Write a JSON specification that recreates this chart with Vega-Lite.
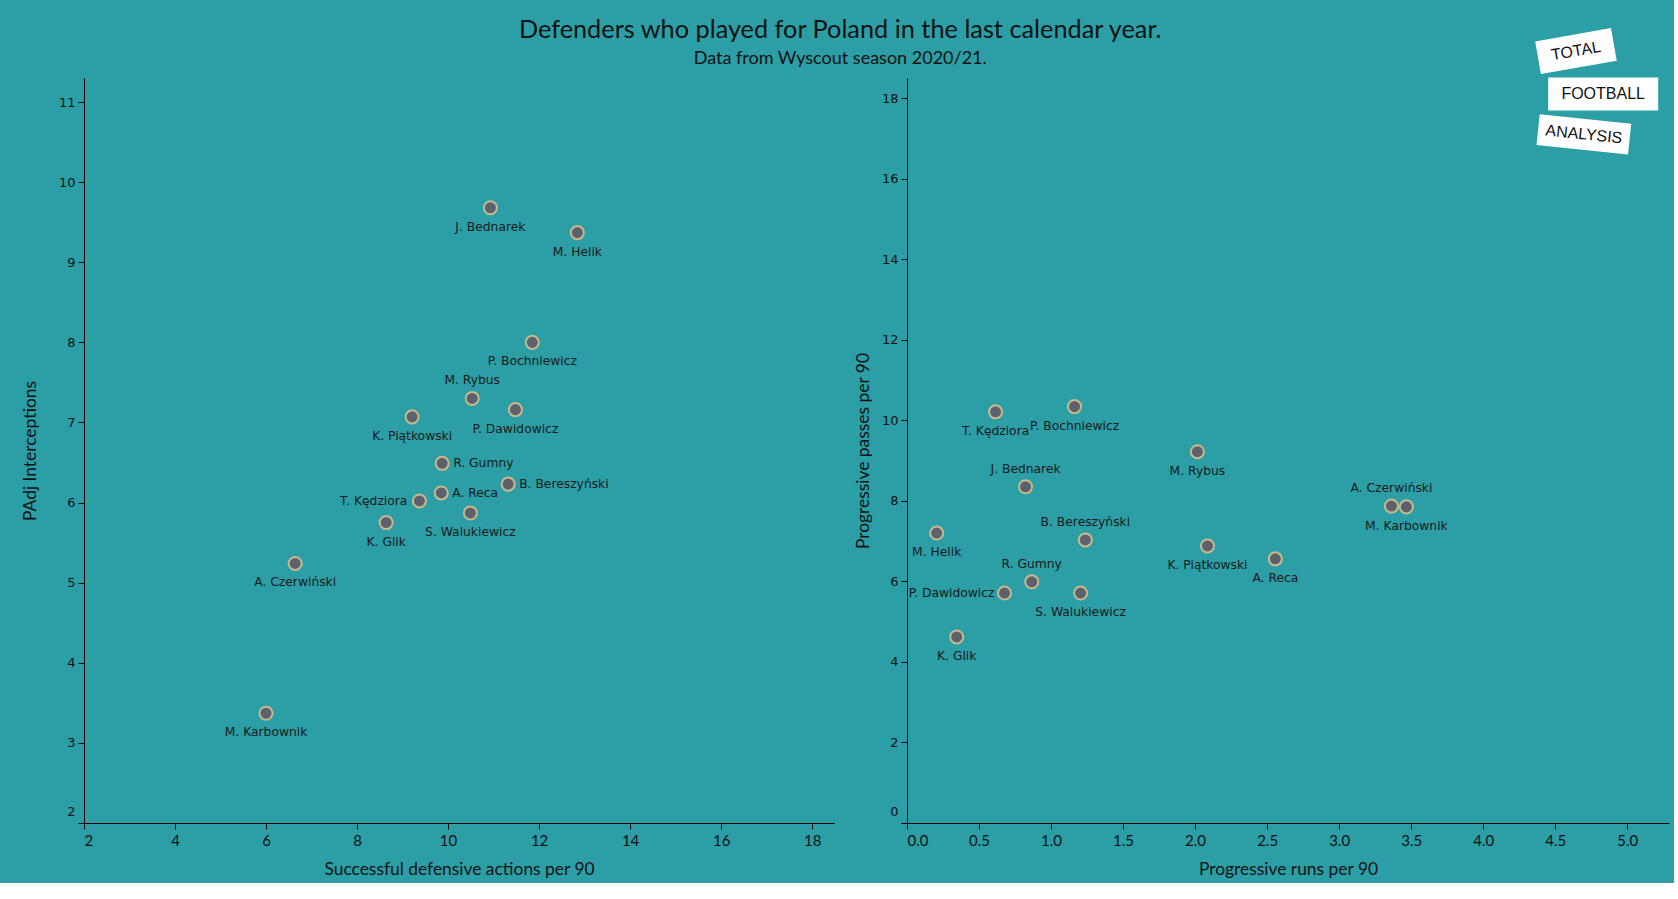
{
  "$schema": "https://vega.github.io/schema/vega-lite/v6.json",
  "background": "#2b9ea6",
  "padding": {"left": 21, "top": 17, "right": 5, "bottom": 5},
  "title": {
    "text": "Defenders who played for Poland in the last calendar year.",
    "subtitle": "Data from Wyscout season 2020/21.",
    "anchor": "middle",
    "dx": -5,
    "font": "Lato",
    "fontSize": 25.3,
    "fontWeight": "normal",
    "color": "#111111",
    "subtitleFont": "Lato",
    "subtitleFontSize": 18,
    "subtitleColor": "#111111",
    "subtitlePadding": 7,
    "offset": -40
  },
  "config": {
    "view": {"stroke": null},
    "axis": {
      "grid": false,
      "domainColor": "#000000",
      "tickColor": "#000000",
      "tickSize": 6,
      "labelColor": "#111111",
      "titleColor": "#111111",
      "titleFont": "Lato",
      "titleFontSize": 17.4,
      "titleFontWeight": "normal",
      "labelFlush": true
    }
  },
  "datasets": {
    "players": [
      {"player": "J. Bednarek", "def_actions": 10.93, "interceptions": 9.68, "prog_runs": 0.823, "prog_passes": 8.35},
      {"player": "M. Helik", "def_actions": 12.84, "interceptions": 9.37, "prog_runs": 0.206, "prog_passes": 7.2},
      {"player": "P. Bochniewicz", "def_actions": 11.85, "interceptions": 8.0, "prog_runs": 1.163, "prog_passes": 10.34},
      {"player": "M. Rybus", "def_actions": 10.53, "interceptions": 7.3, "prog_runs": 2.016, "prog_passes": 9.22},
      {"player": "P. Dawidowicz", "def_actions": 11.48, "interceptions": 7.16, "prog_runs": 0.677, "prog_passes": 5.71},
      {"player": "K. Piątkowski", "def_actions": 9.21, "interceptions": 7.07, "prog_runs": 2.086, "prog_passes": 6.88},
      {"player": "R. Gumny", "def_actions": 9.87, "interceptions": 6.49, "prog_runs": 0.866, "prog_passes": 5.99},
      {"player": "B. Bereszyński", "def_actions": 11.32, "interceptions": 6.23, "prog_runs": 1.238, "prog_passes": 7.03},
      {"player": "A. Reca", "def_actions": 9.85, "interceptions": 6.12, "prog_runs": 2.557, "prog_passes": 6.56},
      {"player": "T. Kędziora", "def_actions": 9.37, "interceptions": 6.02, "prog_runs": 0.615, "prog_passes": 10.21},
      {"player": "S. Walukiewicz", "def_actions": 10.49, "interceptions": 5.87, "prog_runs": 1.205, "prog_passes": 5.71},
      {"player": "K. Glik", "def_actions": 8.64, "interceptions": 5.75, "prog_runs": 0.345, "prog_passes": 4.62},
      {"player": "A. Czerwiński", "def_actions": 6.64, "interceptions": 5.24, "prog_runs": 3.363, "prog_passes": 7.87},
      {"player": "M. Karbownik", "def_actions": 6.0, "interceptions": 3.37, "prog_runs": 3.467, "prog_passes": 7.85}
    ],
    "logo": [
      {"word": "TOTAL", "lx": 4.644, "ly": 19.17},
      {"word": "FOOTBALL", "lx": 4.833, "ly": 18.1},
      {"word": "ANALYSIS", "lx": 4.699, "ly": 17.1}
    ]
  },
  "spacing": 20,
  "hconcat": [
    {
      "width": 750,
      "height": 745,
      "data": {"name": "players"},
      "encoding": {
        "x": {
          "field": "def_actions", "type": "quantitative",
          "scale": {"domain": [2, 18.48], "nice": false, "zero": false},
          "axis": {"values": [2, 4, 6, 8, 10, 12, 14, 16, 18], "title": "Successful defensive actions per 90", "labelFont": "Lato", "labelFontSize": 15, "labelPadding": 4, "titlePadding": 12}
        },
        "y": {
          "field": "interceptions", "type": "quantitative",
          "scale": {"domain": [2, 11.3], "nice": false, "zero": false},
          "axis": {"values": [2, 3, 4, 5, 6, 7, 8, 9, 10, 11], "title": "PAdj Interceptions", "labelFont": "DejaVu Sans", "labelFontSize": 13, "labelPadding": 3, "titlePadding": 19, "labelFlushOffset": -5}
        }
      },
      "layer": [
        {"mark": {"type": "point", "filled": true, "size": 170, "fill": "#5d616d", "stroke": "#c9b98c", "strokeWidth": 2, "opacity": 1}},
        {
          "transform": [{"filter": {"field": "player", "oneOf": ["J. Bednarek", "M. Helik", "P. Bochniewicz", "P. Dawidowicz", "K. Piątkowski", "S. Walukiewicz", "K. Glik", "A. Czerwiński", "M. Karbownik"]}}],
          "mark": {"type": "text", "font": "DejaVu Sans", "fontSize": 12.3, "color": "#1a1a1a", "align": "center", "baseline": "middle", "dy": 19},
          "encoding": {"text": {"field": "player"}}
        },
        {
          "transform": [{"filter": {"field": "player", "oneOf": ["M. Rybus"]}}],
          "mark": {"type": "text", "font": "DejaVu Sans", "fontSize": 12.3, "color": "#1a1a1a", "align": "center", "baseline": "middle", "dy": -18},
          "encoding": {"text": {"field": "player"}}
        },
        {
          "transform": [{"filter": {"field": "player", "oneOf": ["R. Gumny", "A. Reca", "B. Bereszyński"]}}],
          "mark": {"type": "text", "font": "DejaVu Sans", "fontSize": 12.3, "color": "#1a1a1a", "align": "left", "baseline": "middle", "dx": 11},
          "encoding": {"text": {"field": "player"}}
        },
        {
          "transform": [{"filter": {"field": "player", "oneOf": ["T. Kędziora"]}}],
          "mark": {"type": "text", "font": "DejaVu Sans", "fontSize": 12.3, "color": "#1a1a1a", "align": "right", "baseline": "middle", "dx": -12},
          "encoding": {"text": {"field": "player"}}
        }
      ]
    },
    {
      "width": 762,
      "height": 745,
      "encoding": {
        "x": {
          "field": "prog_runs", "type": "quantitative",
          "scale": {"domain": [0, 5.29], "nice": false, "zero": false},
          "axis": {"values": [0, 0.5, 1, 1.5, 2, 2.5, 3, 3.5, 4, 4.5, 5], "format": ".1f", "title": "Progressive runs per 90", "labelFont": "Lato", "labelFontSize": 15, "labelPadding": 4, "titlePadding": 12}
        },
        "y": {
          "field": "prog_passes", "type": "quantitative",
          "scale": {"domain": [0, 18.5], "nice": false, "zero": false},
          "axis": {"values": [0, 2, 4, 6, 8, 10, 12, 14, 16, 18], "title": "Progressive passes per 90", "labelFont": "DejaVu Sans", "labelFontSize": 13, "labelPadding": 3, "titlePadding": 9, "labelFlushOffset": -5}
        }
      },
      "layer": [
        {"data": {"name": "players"}, "mark": {"type": "point", "filled": true, "size": 170, "fill": "#5d616d", "stroke": "#c9b98c", "strokeWidth": 2, "opacity": 1}},
        {
          "data": {"name": "players"},
          "transform": [{"filter": {"field": "player", "oneOf": ["T. Kędziora", "P. Bochniewicz", "M. Rybus", "M. Helik", "K. Piątkowski", "A. Reca", "S. Walukiewicz", "K. Glik", "M. Karbownik"]}}],
          "mark": {"type": "text", "font": "DejaVu Sans", "fontSize": 12.3, "color": "#1a1a1a", "align": "center", "baseline": "middle", "dy": 19},
          "encoding": {"text": {"field": "player"}}
        },
        {
          "data": {"name": "players"},
          "transform": [{"filter": {"field": "player", "oneOf": ["J. Bednarek", "B. Bereszyński", "R. Gumny", "A. Czerwiński"]}}],
          "mark": {"type": "text", "font": "DejaVu Sans", "fontSize": 12.3, "color": "#1a1a1a", "align": "center", "baseline": "middle", "dy": -18},
          "encoding": {"text": {"field": "player"}}
        },
        {
          "data": {"name": "players"},
          "transform": [{"filter": {"field": "player", "oneOf": ["P. Dawidowicz"]}}],
          "mark": {"type": "text", "font": "DejaVu Sans", "fontSize": 12.3, "color": "#1a1a1a", "align": "right", "baseline": "middle", "dx": -10},
          "encoding": {"text": {"field": "player"}}
        },
        {
          "data": {"name": "logo"},
          "transform": [{"filter": {"field": "word", "equal": "TOTAL"}}],
          "mark": {"type": "point", "filled": true, "fill": "#ffffff", "opacity": 1, "shape": "M-1,-0.43H1V0.43H-1Z", "size": 5929, "angle": -10},
          "encoding": {"x": {"field": "lx", "type": "quantitative"}, "y": {"field": "ly", "type": "quantitative"}}
        },
        {
          "data": {"name": "logo"},
          "transform": [{"filter": {"field": "word", "equal": "FOOTBALL"}}],
          "mark": {"type": "point", "filled": true, "fill": "#ffffff", "opacity": 1, "shape": "M-1,-0.3H1V0.3H-1Z", "size": 12100, "angle": 0},
          "encoding": {"x": {"field": "lx", "type": "quantitative"}, "y": {"field": "ly", "type": "quantitative"}}
        },
        {
          "data": {"name": "logo"},
          "transform": [{"filter": {"field": "word", "equal": "ANALYSIS"}}],
          "mark": {"type": "point", "filled": true, "fill": "#ffffff", "opacity": 1, "shape": "M-1,-0.337H1V0.337H-1Z", "size": 8464, "angle": 6},
          "encoding": {"x": {"field": "lx", "type": "quantitative"}, "y": {"field": "ly", "type": "quantitative"}}
        },
        {
          "data": {"name": "logo"},
          "transform": [{"filter": {"field": "word", "equal": "TOTAL"}}],
          "mark": {"type": "text", "font": "Liberation Sans", "fontSize": 16, "color": "#111111", "align": "center", "baseline": "middle", "angle": -10},
          "encoding": {"x": {"field": "lx", "type": "quantitative"}, "y": {"field": "ly", "type": "quantitative"}, "text": {"field": "word"}}
        },
        {
          "data": {"name": "logo"},
          "transform": [{"filter": {"field": "word", "equal": "FOOTBALL"}}],
          "mark": {"type": "text", "font": "Liberation Sans", "fontSize": 16, "color": "#111111", "align": "center", "baseline": "middle", "angle": 0},
          "encoding": {"x": {"field": "lx", "type": "quantitative"}, "y": {"field": "ly", "type": "quantitative"}, "text": {"field": "word"}}
        },
        {
          "data": {"name": "logo"},
          "transform": [{"filter": {"field": "word", "equal": "ANALYSIS"}}],
          "mark": {"type": "text", "font": "Liberation Sans", "fontSize": 16, "color": "#111111", "align": "center", "baseline": "middle", "angle": 6},
          "encoding": {"x": {"field": "lx", "type": "quantitative"}, "y": {"field": "ly", "type": "quantitative"}, "text": {"field": "word"}}
        }
      ]
    }
  ]
}
